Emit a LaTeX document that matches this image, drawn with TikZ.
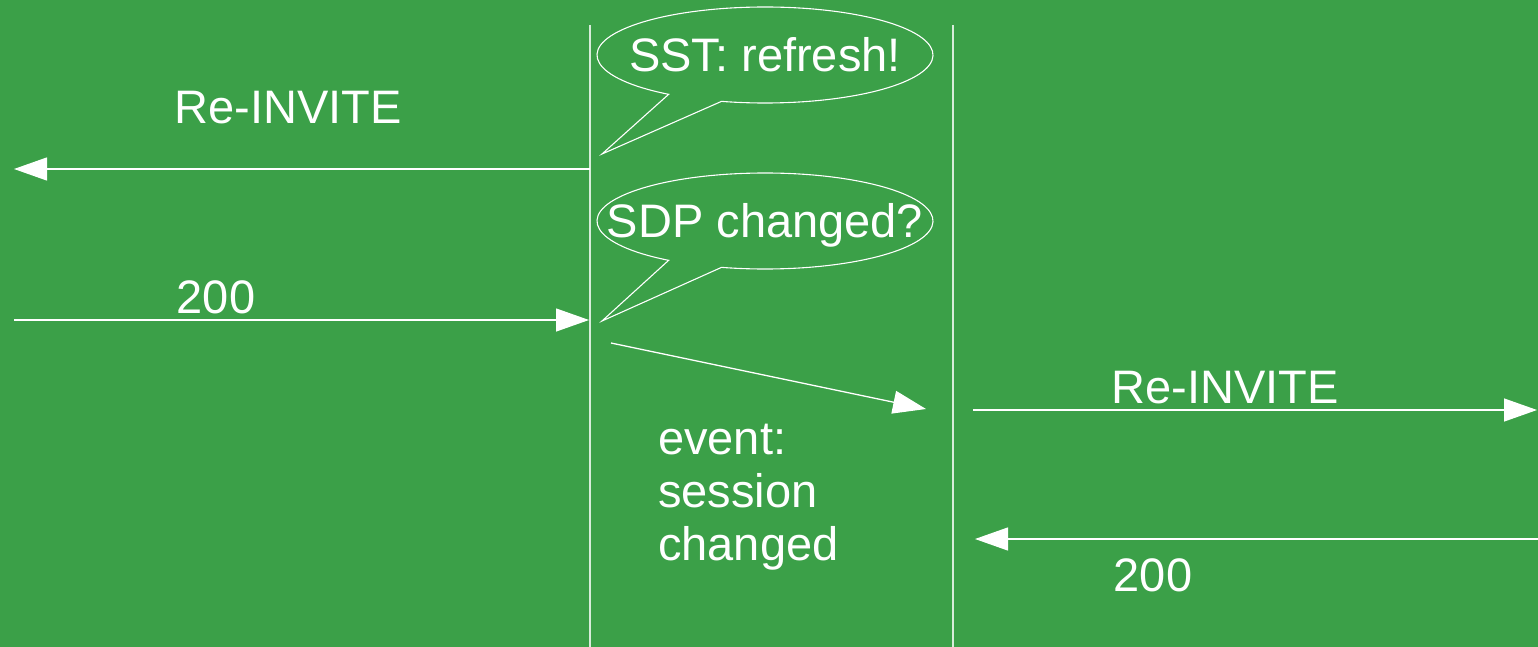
\documentclass[tikz,border=0pt]{standalone}
\usepackage{fontspec}
\setmainfont{Liberation Sans}
\usetikzlibrary{arrows.meta,calc}
\definecolor{bggreen}{RGB}{59,160,72}
\begin{document}
\begin{tikzpicture}[x=1pt,y=-1pt,
  msg/.style={draw=white, line width=1.3pt, -{Triangle[length=33pt,width=23pt]}},
  life/.style={draw=white!80!bggreen, line width=1.2pt},
  bubble/.style={draw=white, line width=1.1pt},
  lbl/.style={text=white, font=\fontsize{47}{53}\selectfont, inner sep=0pt}]

% canvas
\fill[bggreen] (0,0) rectangle (1538,647);
\useasboundingbox (0,0) rectangle (1538,647);

% lifelines
\coordinate (Atop) at (590,25);  \coordinate (Abot) at (590,647);
\coordinate (Btop) at (953,25);  \coordinate (Bbot) at (953,647);
\draw[life] (Atop) -- (Abot);
\draw[life] (Btop) -- (Bbot);

% left side: refresh re-INVITE and its 200
\coordinate (A1) at (590,169); \coordinate (L1) at (14,169);
\draw[msg] (A1) -- (L1);
\node[lbl, anchor=base] (reinvL) at (288,124) {Re-INVITE};

\coordinate (L2) at (14,320); \coordinate (A2) at (589,320);
\draw[msg] (L2) -- (A2);
\node[lbl, anchor=base] (okL) at (216,313) {200};

% speech bubbles
\coordinate (c1) at (765,55);  \coordinate (t1) at (602,154);
\draw[bubble] ($(c1)+(125:168 and 48)$)
  arc[start angle=125, end angle=465, x radius=168, y radius=48] -- (t1) -- cycle;
\node[lbl, anchor=base] (sst) at (765,72) {SST: refresh!};

\coordinate (c2) at (765,221); \coordinate (t2) at (602,321);
\draw[bubble] ($(c2)+(125:168 and 48)$)
  arc[start angle=125, end angle=465, x radius=168, y radius=48] -- (t2) -- cycle;
\node[lbl, anchor=base] (sdp) at (765,237) {SDP changed?};

% session-changed event
\coordinate (D1) at (611,343); \coordinate (D2) at (926,409);
\draw[msg] (D1) -- (D2);
\node[lbl, anchor=base west, align=left] (evt) at (658,560) {event:\\session\\changed};

% right side: re-INVITE and its 200
\coordinate (B1) at (973,410); \coordinate (R1) at (1537,410);
\draw[msg] (B1) -- (R1);
\node[lbl, anchor=base] (reinvR) at (1225,403) {Re-INVITE};

\coordinate (R2) at (1538,539); \coordinate (B2) at (975,539);
\draw[msg] (R2) -- (B2);
\node[lbl, anchor=base] (okR) at (1153,591) {200};
\end{tikzpicture}
\end{document}
